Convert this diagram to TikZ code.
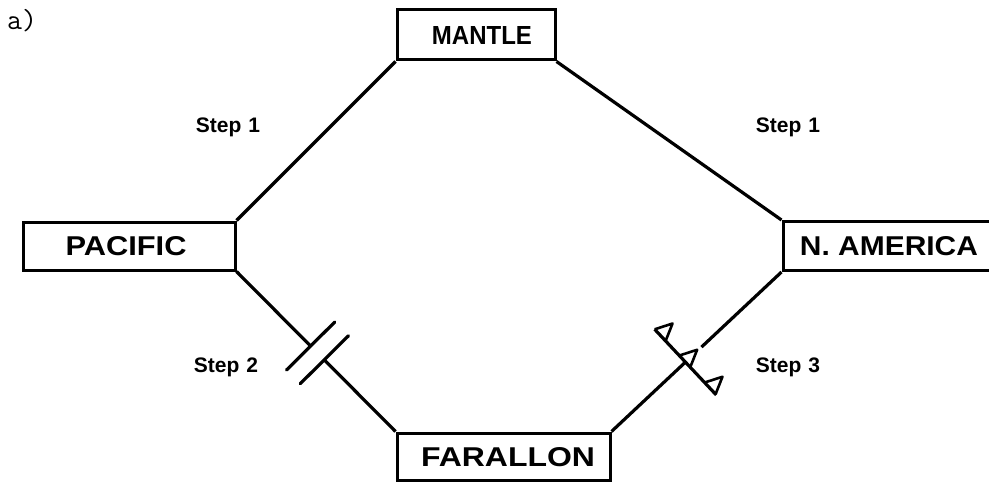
\documentclass[tikz,border=0pt]{standalone}
\usepackage{fontspec}
\setmainfont{Liberation Sans}
\usetikzlibrary{calc}
\newcommand{\platetext}[3]{\resizebox{#1}{#2}{\bfseries #3}}
\begin{document}
\begin{tikzpicture}[x=1pt,y=-1pt, line width=3.2pt,
  plate/.style={draw, rectangle, inner sep=0pt, line width=3pt},
  platelbl/.style={inner sep=0pt},
  steplbl/.style={font=\fontsize{21}{21}\selectfont\bfseries, inner sep=0pt},
  conn/.style={line width=3.2pt},
  tooth/.style={line width=2.6pt, line join=round}]
\useasboundingbox (0,0) rectangle (989,487);
\clip (0,0) rectangle (989,487);
% plates
\node[plate, minimum width=158pt, minimum height=50pt] (mantle) at (476,35) {};
\node[plate, minimum width=212pt, minimum height=48pt] (pacific) at (129,246) {};
\node[plate, minimum width=216pt, minimum height=49pt] (namerica) at (891,246) {};
\node[plate, minimum width=213pt, minimum height=47pt] (farallon) at (503.5,456.5) {};
\node[platelbl] (mantlet) at (482,35) {\platetext{100pt}{18pt}{MANTLE}};
\node[platelbl] (pacifict) at (126,246) {\platetext{121pt}{19pt}{PACIFIC}};
\node[platelbl] (namericat) at (889,246) {\platetext{178pt}{19pt}{N. AMERICA}};
\node[platelbl] (farallont) at (508,457) {\platetext{174pt}{19pt}{FARALLON}};
% labels
\node[font=\fontsize{29}{29}\selectfont\ttfamily, inner sep=0pt] (alabel) at (22,21) {a)};
\node[steplbl] (s1l) at (228,127) {Step\,\,1};
\node[steplbl] (s1r) at (788,127) {Step\,\,1};
\node[steplbl] (s2) at (226,367) {Step\,\,2};
\node[steplbl] (s3) at (788,367) {Step\,\,3};
% Step 1 connections
\draw[conn] (mantle.south west) -- (pacific.north east);
\draw[conn] (mantle.south east) -- (namerica.north west);
% Step 2: ridge between Pacific and Farallon
\coordinate (r1) at ($(pacific.south east)!0.466!(farallon.north west)$);
\coordinate (r2) at ($(pacific.south east)!0.552!(farallon.north west)$);
\draw[conn] (pacific.south east) -- (r1);
\draw[conn] (r2) -- (farallon.north west);
\draw[conn, line cap=round] ($(r1)!34pt!90:(farallon.north west)$) -- ($(r1)!34pt!-90:(farallon.north west)$);
\draw[conn, line cap=round] ($(r2)!34pt!90:(farallon.north west)$) -- ($(r2)!34pt!-90:(farallon.north west)$);
% Step 3: trench between Farallon and North America
\coordinate (c) at ($(farallon.north east)!0.435!(namerica.south west)$);
\coordinate (g) at ($(c)!22pt!(namerica.south west)$);
\draw[conn] (farallon.north east) -- (c);
\draw[conn] (g) -- (namerica.south west);
\coordinate (t0) at ($(c)!45pt!90:(namerica.south west)$);
\coordinate (t1) at ($(c)!45pt!-90:(namerica.south west)$);
\draw[conn] (t0) -- (t1);
\foreach \s in {0,36,73} {
  \coordinate (pa) at ($(t0)!\s pt!(t1)$);
  \coordinate (pb) at ($(t0)!\s pt+16pt!(t1)$);
  \coordinate (pm) at ($(t0)!\s pt+8pt!(t1)$);
  \coordinate (pc) at ($(pm)!17pt!90:(t1)$);
  \draw[tooth] (pa) -- (pc) -- (pb);
}
\end{tikzpicture}
\end{document}
